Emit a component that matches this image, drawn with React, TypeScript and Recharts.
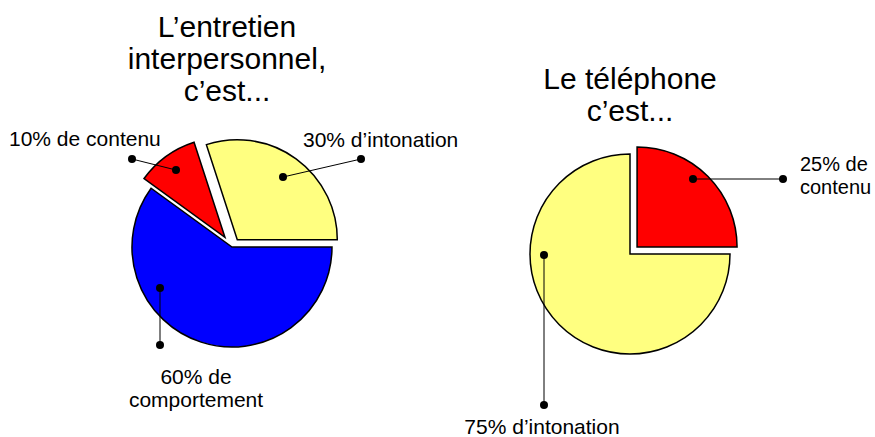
import React from 'react';
import {PieChart, Pie, Cell} from 'recharts';

// left chart
const entretienTitle = ['L’entretien', 'interpersonnel,', 'c’est...'];
const entretienNames = ['intonation', 'contenu', 'comportement'];
const entretienValues = [30, 10, 60];
const entretienLabels = [['30% d’intonation'], ['10% de contenu'], ['60% de', 'comportement']];

// right chart
const telephoneTitle = ['Le téléphone', 'c’est...'];
const telephoneNames = ['contenu', 'intonation'];
const telephoneValues = [25, 75];
const telephoneLabels = [['25% de', 'contenu'], ['75% d’intonation']];

const FONT = '"Liberation Sans", Arial, sans-serif';
const RADIUS = 100;

const left = {
    cx: 232,
    cy: 247,
    colors: ['#FFFF80', '#FF0000', '#0000FF'],
    explode: [9, 12, 0],
    layout: [
        {inner: [51, -70], outer: [129, -88], text: [71, -100], anchor: 'start', size: 21},
        {inner: [-56, -77], outer: [-100, -88], text: [-223, -101], anchor: 'start', size: 21},
        {inner: [-72, 41], outer: [-72, 98], text: [-36, 137], anchor: 'middle', size: 21},
    ],
    titleX: 227,
    titleY: 37,
};

const right = {
    cx: 630,
    cy: 254,
    colors: ['#FF0000', '#FFFF80'],
    explode: [10, 0],
    layout: [
        {inner: [63, -75], outer: [153, -75], text: [170, -83], anchor: 'start', size: 20},
        {inner: [-86, 1], outer: [-86, 151], text: [-88, 180], anchor: 'middle', size: 21},
    ],
    titleX: 630,
    titleY: 89,
};

function offsetCenter(cx: number, cy: number, values: number[], i: number, dist: number) {
    const total = values.reduce((a, b) => a + b, 0);
    const before = values.slice(0, i).reduce((a, b) => a + b, 0);
    const mid = ((before + values[i] / 2) / total) * 2 * Math.PI;
    return [cx + dist * Math.cos(mid), cy - dist * Math.sin(mid)];
}

function makeLabel(cfg: any, texts: string[][], slice: number) {
    return (props: any) => {
        if (props.index !== slice) return null;
        const l = cfg.layout[slice];
        const ix = cfg.cx + l.inner[0], iy = cfg.cy + l.inner[1];
        const ox = cfg.cx + l.outer[0], oy = cfg.cy + l.outer[1];
        const tx = cfg.cx + l.text[0], ty = cfg.cy + l.text[1];
        return (
            <g>
                <line x1={ix} y1={iy} x2={ox} y2={oy} stroke="#000" strokeWidth={1}/>
                <circle cx={ix} cy={iy} r={4} fill="#000"/>
                <circle cx={ox} cy={oy} r={4} fill="#000"/>
                <text x={tx} y={ty} textAnchor={l.anchor} fontFamily={FONT} fontSize={l.size} fill="#000">
                    {texts[slice].map((t, k) => (
                        <tspan key={k} x={tx} y={ty + k * 23}>{t}</tspan>
                    ))}
                </text>
            </g>
        );
    };
}

function slices(cfg: any, names: string[], values: number[], texts: string[][], prefix: string) {
    const data = names.map((n, i) => ({name: n, value: values[i]}));
    return names.map((_, k) => {
        const [cx, cy] = offsetCenter(cfg.cx, cfg.cy, values, k, cfg.explode[k]);
        return (
            <Pie
                key={prefix + k}
                data={data}
                dataKey="value"
                nameKey="name"
                cx={cx}
                cy={cy}
                innerRadius={0}
                outerRadius={RADIUS}
                startAngle={0}
                endAngle={360}
                isAnimationActive={false}
                label={makeLabel(cfg, texts, k)}
                labelLine={false}
            >
                {data.map((d, i) => (
                    <Cell
                        key={i}
                        fill={i === k ? cfg.colors[i] : 'none'}
                        stroke={i === k ? '#000' : 'none'}
                        strokeWidth={1.5}
                    />
                ))}
            </Pie>
        );
    });
}

function Title({x, y, lines}: {x: number, y: number, lines: string[]}) {
    return (
        <text x={x} y={y} textAnchor="middle" fontFamily={FONT} fontSize={30} fill="#000">
            {lines.map((t, k) => (
                <tspan key={k} x={x} y={y + k * 32}>{t}</tspan>
            ))}
        </text>
    );
}

export default function App() {
    return (
        <div style={{width: 875, height: 437, background: '#fff'}}>
            <style>{'body{margin:0}'}</style>
            <PieChart width={875} height={437} margin={{top: 0, right: 0, bottom: 0, left: 0}}>
                <Title x={left.titleX} y={left.titleY} lines={entretienTitle}/>
                <Title x={right.titleX} y={right.titleY} lines={telephoneTitle}/>
                {slices(left, entretienNames, entretienValues, entretienLabels, 'l')}
                {slices(right, telephoneNames, telephoneValues, telephoneLabels, 'r')}
            </PieChart>
        </div>
    );
}
